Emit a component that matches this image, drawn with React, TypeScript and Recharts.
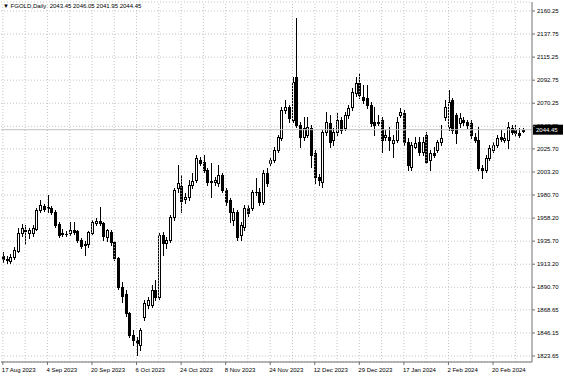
import React from 'react'
import { ComposedChart, Bar, XAxis, YAxis, CartesianGrid, ReferenceLine } from 'recharts'

const symbolTitle = 'FGOLD,Daily'

const dateLabels = [
  '17 Aug 2023', '4 Sep 2023', '20 Sep 2023', '6 Oct 2023', '24 Oct 2023', '8 Nov 2023',
  '24 Nov 2023', '12 Dec 2023', '29 Dec 2023', '17 Jan 2024', '2 Feb 2024', '20 Feb 2024',
]
const labelBars = [0, 12, 24, 36, 48, 60, 72, 84, 96, 108, 120, 132]
const gridBars = [0, 6, 12, 18, 24, 30, 36, 42, 48, 54, 60, 66, 72, 78, 84, 90, 96, 102, 108, 114, 120, 126, 132, 138]

const priceTicks = [
  2160.25, 2137.75, 2115.25, 2092.75, 2070.25, 2047.75, 2025.7, 2003.2,
  1980.7, 1958.2, 1935.7, 1913.2, 1890.7, 1868.65, 1846.15, 1823.65,
]

const opens = [
  1921.2, 1918.3, 1916.3, 1920.2, 1926.1, 1943.6, 1946.6, 1943.6, 1943.6, 1947.5,
  1966.1, 1970.0, 1968.0, 1968.0, 1964.1, 1952.4, 1942.7, 1942.7, 1943.6, 1946.6,
  1945.6, 1936.9, 1932.0, 1933.0, 1943.6, 1953.4, 1955.4, 1953.4, 1939.7, 1944.6,
  1934.9, 1919.2, 1891.0, 1884.1, 1865.6, 1844.1, 1839.2, 1834.4, 1861.7, 1873.4,
  1873.4, 1888.0, 1881.2, 1941.7, 1933.9, 1936.8, 1959.2, 1987.5, 1989.5, 1976.8,
  1978.8, 1990.5, 1995.3, 2014.8, 2012.9, 2005.1, 1994.4, 1993.4, 1992.4, 2000.2,
  1985.6, 1975.8, 1956.3, 1964.1, 1941.7, 1949.5, 1968.0, 1968.0, 1983.6, 1983.6,
  1973.9, 2002.2, 2011.9, 2014.8, 2024.6, 2036.3, 2063.6, 2066.6, 2053.9, 2095.8,
  2049.0, 2037.3, 2039.2, 2046.1, 2021.7, 1998.3, 1993.4, 2042.2, 2050.9, 2034.4,
  2042.2, 2053.9, 2046.1, 2058.7, 2066.6, 2080.2, 2090.0, 2076.3, 2075.3, 2068.5,
  2051.9, 2051.9, 2053.9, 2037.3, 2037.3, 2031.4, 2034.4, 2058.7, 2060.7, 2032.4,
  2008.0, 2027.5, 2032.4, 2022.7, 2039.2, 2014.8, 2021.7, 2024.6, 2032.4, 2056.8,
  2047.0, 2073.4, 2058.7, 2050.9, 2053.9, 2051.9, 2050.9, 2037.3, 2034.4, 2007.0,
  2005.1, 2016.8, 2024.6, 2029.5, 2037.3, 2034.4, 2034.4, 2046.1, 2044.1, 2041.2,
  2043.45,
]
const highs = [
  1925.1, 1921.2, 1923.1, 1930.0, 1948.5, 1952.4, 1951.4, 1948.5, 1951.4, 1968.0,
  1975.8, 1971.9, 1980.7, 1970.0, 1966.1, 1954.4, 1947.5, 1945.6, 1954.4, 1954.4,
  1946.6, 1938.8, 1935.8, 1945.6, 1956.4, 1958.3, 1969.0, 1954.4, 1947.5, 1946.6,
  1935.8, 1920.2, 1895.8, 1888.0, 1866.6, 1849.0, 1842.1, 1850.9, 1878.2, 1881.2,
  1892.9, 1897.8, 1943.6, 1944.6, 1939.7, 1961.2, 1987.5, 2010.0, 2000.2, 1982.7,
  1995.3, 2002.2, 2019.7, 2017.8, 2019.7, 2007.0, 2011.9, 1998.3, 2010.0, 2002.2,
  1987.5, 1977.8, 1968.0, 1966.1, 1954.4, 1970.9, 1970.9, 1985.6, 1997.3, 1987.5,
  2005.1, 2007.0, 2016.8, 2027.5, 2039.2, 2066.6, 2073.4, 2068.5, 2095.8, 2153.4,
  2051.9, 2056.8, 2056.8, 2049.0, 2024.6, 2001.2, 2044.1, 2061.7, 2058.7, 2046.1,
  2060.7, 2056.8, 2061.7, 2068.5, 2085.1, 2095.8, 2099.7, 2088.0, 2088.0, 2071.4,
  2066.6, 2058.7, 2056.8, 2044.1, 2047.0, 2039.2, 2056.8, 2065.6, 2063.6, 2036.3,
  2032.4, 2037.3, 2037.3, 2037.3, 2042.2, 2024.6, 2027.5, 2034.4, 2049.0, 2073.4,
  2083.2, 2075.3, 2060.7, 2060.7, 2056.8, 2053.9, 2053.9, 2041.2, 2047.0, 2010.0,
  2019.7, 2029.5, 2032.4, 2039.2, 2044.1, 2041.2, 2051.9, 2049.0, 2049.0, 2046.1,
  2046.05,
]
const lows = [
  1915.3, 1914.4, 1914.4, 1918.3, 1925.1, 1940.7, 1932.9, 1938.8, 1940.7, 1946.6,
  1964.1, 1965.1, 1964.1, 1962.2, 1949.5, 1939.7, 1940.7, 1940.7, 1941.7, 1942.7,
  1934.9, 1929.0, 1922.2, 1930.0, 1942.7, 1951.4, 1951.4, 1936.9, 1935.8, 1932.0,
  1917.3, 1889.0, 1876.3, 1862.7, 1842.1, 1834.4, 1824.6, 1829.5, 1858.7, 1870.4,
  1871.4, 1878.2, 1879.2, 1922.2, 1929.0, 1934.8, 1956.3, 1983.6, 1964.1, 1972.9,
  1975.8, 1987.5, 1993.4, 2010.0, 2003.2, 1990.5, 1978.8, 1990.5, 1989.5, 1983.6,
  1970.9, 1954.4, 1951.4, 1936.8, 1936.8, 1946.5, 1960.2, 1966.1, 1980.7, 1970.9,
  1971.9, 1989.5, 2010.0, 2012.9, 2022.7, 2034.4, 2060.7, 2051.9, 2051.9, 2047.0,
  2027.5, 2034.4, 2037.3, 2008.0, 1992.4, 1990.5, 1988.5, 2039.2, 2027.5, 2029.5,
  2039.2, 2041.2, 2044.1, 2055.8, 2063.6, 2077.3, 2075.3, 2070.5, 2065.6, 2048.0,
  2039.2, 2049.0, 2022.7, 2034.4, 2024.6, 2017.8, 2032.4, 2056.8, 2029.5, 2005.1,
  2005.1, 2026.6, 2019.7, 2019.7, 2011.9, 2005.1, 2017.8, 2022.7, 2029.5, 2053.9,
  2044.1, 2041.2, 2031.4, 2047.0, 2049.0, 2046.1, 2036.3, 2032.4, 2005.1, 1997.3,
  2003.2, 2014.8, 2022.7, 2027.5, 2033.4, 2032.4, 2026.6, 2040.2, 2038.3, 2037.3,
  2041.95,
]
const closes = [
  1918.3, 1917.3, 1920.2, 1927.0, 1943.6, 1948.5, 1945.6, 1946.6, 1948.5, 1966.1,
  1971.0, 1967.0, 1969.0, 1964.1, 1951.4, 1941.7, 1943.6, 1942.2, 1946.6, 1944.6,
  1936.9, 1931.0, 1933.0, 1944.6, 1954.4, 1955.4, 1953.4, 1940.7, 1946.6, 1934.9,
  1919.2, 1891.0, 1882.2, 1865.6, 1844.1, 1839.2, 1836.3, 1849.0, 1875.3, 1878.2,
  1888.0, 1881.2, 1941.7, 1933.9, 1936.8, 1959.2, 1985.6, 1992.4, 1974.8, 1978.8,
  1990.5, 1994.4, 2016.8, 2011.9, 2005.1, 1993.4, 1993.4, 1995.3, 2000.2, 1985.6,
  1973.9, 1964.1, 1964.1, 1939.7, 1951.4, 1968.0, 1963.2, 1983.6, 1984.1, 1973.9,
  2002.2, 1992.4, 2014.8, 2024.6, 2037.3, 2063.6, 2066.6, 2055.8, 2091.0, 2049.0,
  2037.3, 2046.1, 2047.0, 2019.7, 1998.3, 1995.3, 2042.2, 2051.9, 2032.4, 2042.2,
  2053.9, 2044.1, 2058.7, 2065.6, 2081.2, 2090.0, 2078.3, 2073.4, 2068.5, 2050.9,
  2049.0, 2051.4, 2034.4, 2039.2, 2034.4, 2034.4, 2051.9, 2061.7, 2032.4, 2010.0,
  2029.5, 2031.4, 2022.7, 2032.4, 2012.9, 2021.7, 2019.7, 2032.4, 2036.3, 2066.6,
  2071.4, 2044.1, 2041.2, 2055.8, 2051.9, 2049.0, 2039.2, 2034.4, 2007.0, 2005.1,
  2016.8, 2026.6, 2029.5, 2036.3, 2035.3, 2036.3, 2047.0, 2042.2, 2041.2, 2039.2,
  2044.45,
]

const FONT = '"Liberation Sans", Arial, sans-serif'
const GRID = '#c4c4c4'
const FRAME = '#707070'

// two empty slots on the right, like the chart shift in the terminal
const data = [
  ...opens.map((o, i) => ({ i, o, h: highs[i], l: lows[i], c: closes[i] })),
  { i: opens.length }, { i: opens.length + 1 },
]
const last = data[opens.length - 1] as { o: number; h: number; l: number; c: number }

function Candle(props: any) {
  const { x, y, width, height, payload } = props
  if (!payload || payload.o == null) return null
  const { o, h, l, c } = payload
  const top = Math.min(y, y + height)
  const bottom = Math.max(y, y + height)
  const k = h === l ? 0 : (bottom - top) / (h - l)
  const py = (v: number) => Math.round(top + (h - v) * k)
  const cx = Math.round(x + width / 2)
  const yo = py(o)
  const yc = py(c)
  const bt = Math.min(yo, yc)
  const bb = Math.max(yo, yc)
  return (
    <g>
      <line x1={cx + 0.5} x2={cx + 0.5} y1={Math.round(top)} y2={Math.round(bottom) + 1} stroke="#000" />
      {bb - bt < 1 ? (
        <line x1={cx - 1} x2={cx + 2} y1={bt + 0.5} y2={bt + 0.5} stroke="#000" />
      ) : c >= o ? (
        <rect x={cx - 0.5} y={bt + 0.5} width={2} height={bb - bt} fill="#fff" stroke="#000" />
      ) : (
        <rect x={cx - 1} y={bt} width={3} height={bb - bt + 1} fill="#000" />
      )}
    </g>
  )
}

function DateTick({ x, y, payload }: any) {
  const k = labelBars.indexOf(payload.value)
  return (
    <text x={x - 1} y={y + 5} fontSize={6} fontFamily={FONT} fill="#000">{dateLabels[k]}</text>
  )
}

function PriceTick({ x, y, payload }: any) {
  return (
    <text x={x} y={y + 2} fontSize={6} fontFamily={FONT} fill="#000">{payload.value.toFixed(2)}</text>
  )
}

function BidLabel({ viewBox }: any) {
  const right = viewBox.x + viewBox.width
  return (
    <g>
      <rect x={right + 1} y={viewBox.y - 5} width={30} height={10} fill="#000" />
      <text x={right + 4} y={viewBox.y + 2} fontSize={6} fontFamily={FONT} fill="#fff">{last.c.toFixed(2)}</text>
    </g>
  )
}

export default function App() {
  return (
    <div style={{ position: 'absolute', left: 0, top: 0, width: 564, height: 376, background: '#fff', overflow: 'hidden' }}>
      <div style={{ position: 'absolute', left: 3, top: 2, fontSize: 6, fontFamily: FONT, color: '#000', whiteSpace: 'pre', zIndex: 2, lineHeight: '8px' }}>
        {'\u25BC '}{symbolTitle}{'  '}{[last.o, last.h, last.l, last.c].map(v => v.toFixed(2)).join(' ')}
      </div>
      <ComposedChart width={564} height={376} data={data} barCategoryGap={0} margin={{ top: 2, right: 0, left: 1, bottom: 0 }}>
        <CartesianGrid vertical={false} stroke={GRID} strokeDasharray="1 2" />
        <XAxis
          dataKey="i"
          ticks={labelBars}
          interval={0}
          height={14}
          tick={<DateTick />}
          tickSize={3}
          tickMargin={2}
          tickLine={{ stroke: FRAME }}
          axisLine={{ stroke: FRAME }}
        />
        <YAxis
          orientation="right"
          type="number"
          domain={[1817.8, 2169.03]}
          allowDataOverflow
          ticks={priceTicks}
          interval={0}
          width={32}
          tick={<PriceTick />}
          tickSize={3}
          tickMargin={2}
          tickLine={{ stroke: FRAME }}
          axisLine={{ stroke: FRAME }}
        />
        <YAxis yAxisId="frame" orientation="left" width={0} tick={false} tickLine={false} axisLine={{ stroke: FRAME }} />
        {gridBars.map(b => (
          <ReferenceLine key={b} x={b} stroke={GRID} strokeDasharray="1 2" />
        ))}
        <ReferenceLine y={last.c} stroke="#c0c0c0" label={<BidLabel />} />
        <Bar
          dataKey={(d: any) => (d.o == null ? null : [d.l, d.h])}
          shape={(p: any) => <Candle {...p} />}
          isAnimationActive={false}
        />
      </ComposedChart>
    </div>
  )
}
